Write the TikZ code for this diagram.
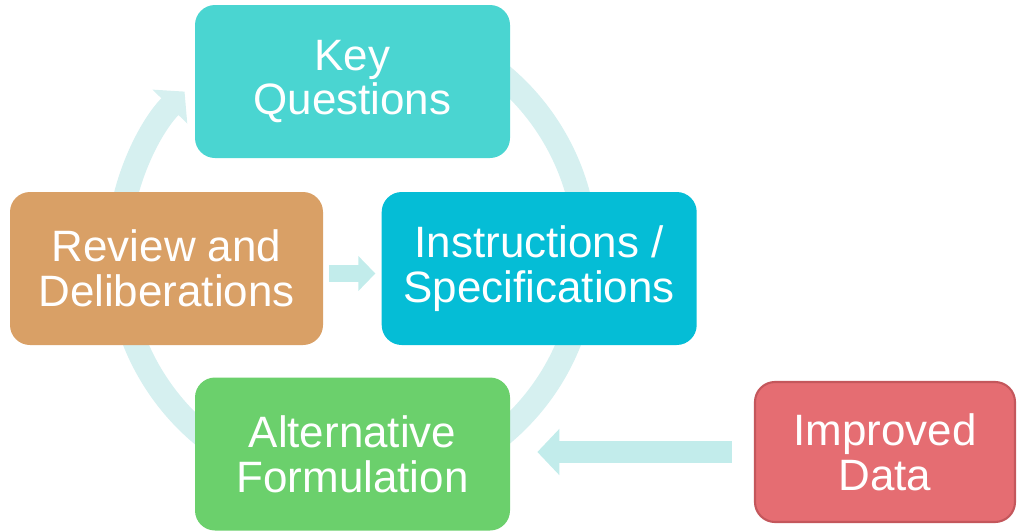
\documentclass[tikz,border=0pt]{standalone}
\usepackage{fontspec}
\setmainfont{Liberation Sans}
\usetikzlibrary{positioning,arrows.meta}

\definecolor{keycol}{HTML}{4AD5D1}
\definecolor{revcol}{HTML}{D9A066}
\definecolor{inscol}{HTML}{05BDD6}
\definecolor{altcol}{HTML}{6BD06C}
\definecolor{datacol}{HTML}{E56D72}
\definecolor{dataline}{HTML}{C4575C}
\definecolor{ringcol}{HTML}{D6F0F0}
\definecolor{flowcol}{HTML}{C2ECEB}

\tikzset{
  box/.style={rectangle, rounded corners=0.4cm, minimum width=6.3cm, minimum height=3.06cm,
    text=white, align=center, font=\fontsize{25}{25.5}\selectfont, inner sep=0pt},
  ring/.style={draw=ringcol, line width=0.48cm, -{Triangle[length=0.42cm, width=0.95cm]}},
}

\begin{document}
\begin{tikzpicture}
                \useasboundingbox (0,0) rectangle (20.34,-10.62);
                \coordinate (hub) at (7.04,-5.10);

                % cycle ring behind the boxes
                \draw[ring] (hub) ++(80:4.68) arc[start angle=80, end angle=-224.3, radius=4.68];

                \node[box, fill=keycol] (key) at (7.05,-1.63) {Key\\Questions};
                \node[box, fill=revcol, minimum width=6.26cm] (review) at (3.33,-5.37) {Review and\\Deliberations};
                \node[box, fill=inscol, right=1.16cm of review] (instr) {Instructions /\\Specifications};
                \node[box, fill=altcol] (alt) at (7.05,-9.08) {Alternative\\Formulation};
                \node[box, fill=datacol, draw=dataline, line width=1.2pt, minimum width=5.2cm, minimum height=2.8cm] (data) at (17.70,-9.04) {Improved\\Data};

                \begin{scope}[transform canvas={yshift=-0.1cm}]
                    \draw[draw=flowcol, line width=0.34cm, shorten <=0.12cm, shorten >=0.12cm,
                      -{Triangle[length=0.34cm, width=0.68cm]}] (review) -- (instr);
                \end{scope}

                \draw[draw=flowcol, line width=0.44cm, shorten <=0.44cm, shorten >=0.54cm,
                  -{Triangle[length=0.44cm, width=0.9cm]}] (data.west) -- (data.west -| alt.east);
            \end{tikzpicture}
\end{document}
